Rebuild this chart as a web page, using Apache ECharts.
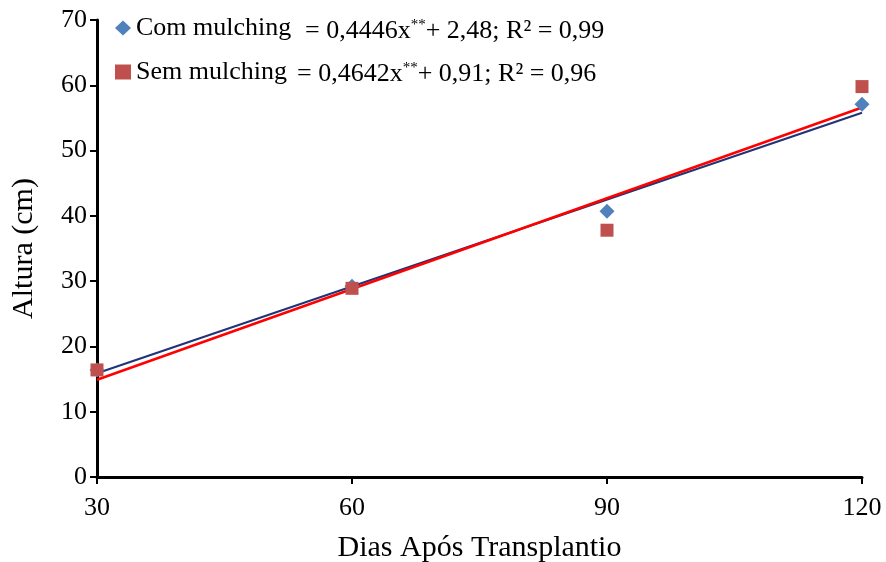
<!DOCTYPE html>
<html>
<head>
<meta charset="utf-8">
<script src="https://cdn.jsdelivr.net/npm/echarts@6/dist/echarts.min.js"></script>
<style>
  html, body { margin: 0; padding: 0; background: #fff; }
  #chart { width: 886px; height: 562px; }
</style>
</head>
<body>
<div id="chart"></div>
<script>
// dias apos transplantio
const dias = [30, 60, 90, 120]
// altura (cm)
const comMulching = [16.4, 29.2, 40.7, 57.1]
const semMulching = [16.4, 28.9, 37.8, 59.8]
// linhas de tendencia (extremos)
const tendDias = [30, 120]
const tendCom = [15.9, 55.8]
const tendSem = [14.9, 56.6]
const yTicks = [0, 10, 20, 30, 40, 50, 60, 70]

const serif = '"Liberation Serif", "Times New Roman", serif'

const chart = echarts.init(document.getElementById('chart'))

const pairs = (xs, ys) => xs.map((x, i) => [x, ys[i]])

chart.setOption({
  animation: false,
  textStyle: { fontFamily: serif, color: '#000' },
  grid: { left: 97, right: 24, top: 20, bottom: 85, containLabel: false, outerBoundsMode: 'none' },
  legend: {
    data: ['Com mulching', 'Sem mulching'],
    orient: 'vertical',
    left: 115,
    top: 15,
    padding: 0,
    itemGap: 18,
    itemWidth: 16,
    itemHeight: 15,
    textStyle: { fontFamily: serif, fontSize: 26, color: '#000', padding: [0, 0, 0, 0] }
  },
  xAxis: {
    type: 'value',
    min: 30,
    max: 120,
    interval: 30,
    name: 'Dias Após Transplantio',
    nameLocation: 'middle',
    nameGap: 56,
    nameTextStyle: { fontFamily: serif, fontSize: 30, color: '#000' },
    axisLine: { show: true, onZero: false, lineStyle: { color: '#000', width: 3 } },
    axisTick: { show: true, length: 7, lineStyle: { color: '#000', width: 2 } },
    axisLabel: { fontFamily: serif, fontSize: 26, color: '#000', margin: 18 },
    splitLine: { show: false }
  },
  yAxis: {
    type: 'value',
    min: yTicks[0],
    max: yTicks[yTicks.length - 1],
    interval: 10,
    name: 'Altura (cm)',
    nameLocation: 'middle',
    nameGap: 58,
    nameRotate: 90,
    nameTextStyle: { fontFamily: serif, fontSize: 30, color: '#000' },
    axisLine: { show: true, lineStyle: { color: '#000', width: 3 } },
    axisTick: { show: true, length: 7, lineStyle: { color: '#000', width: 2 } },
    axisLabel: { fontFamily: serif, fontSize: 26, color: '#000', margin: 10 },
    splitLine: { show: false }
  },
  series: [
    {
      name: 'tend com',
      type: 'line',
      data: pairs(tendDias, tendCom),
      symbol: 'none',
      lineStyle: { color: '#1F3477', width: 2 },
      z: 2
    },
    {
      name: 'tend sem',
      type: 'line',
      data: pairs(tendDias, tendSem),
      symbol: 'none',
      lineStyle: { color: '#FF0000', width: 2.5 },
      z: 3
    },
    {
      name: 'Com mulching',
      type: 'scatter',
      data: pairs(dias, comMulching),
      symbol: 'diamond',
      symbolSize: 15,
      itemStyle: { color: '#4F81BD', opacity: 1 },
      z: 4
    },
    {
      name: 'Sem mulching',
      type: 'scatter',
      data: pairs(dias, semMulching),
      symbol: 'rect',
      symbolSize: 13,
      itemStyle: { color: '#C0504D', opacity: 1 },
      z: 5
    }
  ],
  graphic: [
    {
      type: 'text',
      left: 305,
      top: 18,
      style: {
        text: '= 0,4446x{s|**}+ 2,48; R² = 0,99',
        font: '26px ' + serif,
        fill: '#000',
        rich: { s: { fontSize: 15, verticalAlign: 'top', padding: [0, 0, 12, 0], fontFamily: serif } }
      }
    },
    {
      type: 'text',
      left: 297,
      top: 61,
      style: {
        text: '= 0,4642x{s|**}+ 0,91; R² = 0,96',
        font: '26px ' + serif,
        fill: '#000',
        rich: { s: { fontSize: 15, verticalAlign: 'top', padding: [0, 0, 12, 0], fontFamily: serif } }
      }
    }
  ]
})
</script>
</body>
</html>
